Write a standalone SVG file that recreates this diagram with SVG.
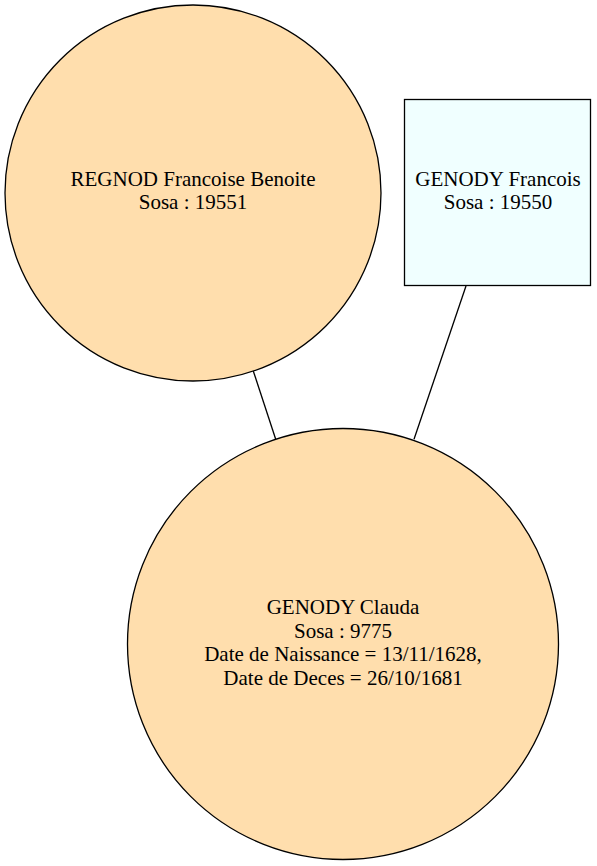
<svg xmlns="http://www.w3.org/2000/svg" width="597" height="866" viewBox="0 0 597 866">
<style>
.nd{stroke:#000;stroke-width:1.3}
.f{fill:#ffdead}
.m{fill:#f0ffff}
text{font-family:"Liberation Serif","Times New Roman",serif;font-size:21px;fill:#000;text-anchor:middle}
.e{stroke:#000;stroke-width:1.3;fill:none}
</style>
<rect width="597" height="866" fill="#fff"/>
<g id="edges">
<line class="e" x1="253.3" y1="371" x2="275.7" y2="439.3"/>
<line class="e" x1="466" y1="286" x2="414" y2="439.3"/>
</g>
<g id="n19551">
<circle class="nd f" cx="193" cy="193" r="188"/>
<text x="193" y="186">REGNOD Francoise Benoite</text>
<text x="193" y="209">Sosa : 19551</text>
</g>
<g id="n19550">
<rect class="nd m" x="404.5" y="99.5" width="186" height="186"/>
<text x="498" y="186">GENODY Francois</text>
<text x="498" y="209">Sosa : 19550</text>
</g>
<g id="n9775">
<circle class="nd f" cx="343" cy="644" r="215.5"/>
<text x="343" y="614">GENODY Clauda</text>
<text x="343" y="637.5">Sosa : 9775</text>
<text x="343" y="661">Date de Naissance = 13/11/1628,</text>
<text x="343" y="684.5">Date de Deces = 26/10/1681</text>
</g>
</svg>
